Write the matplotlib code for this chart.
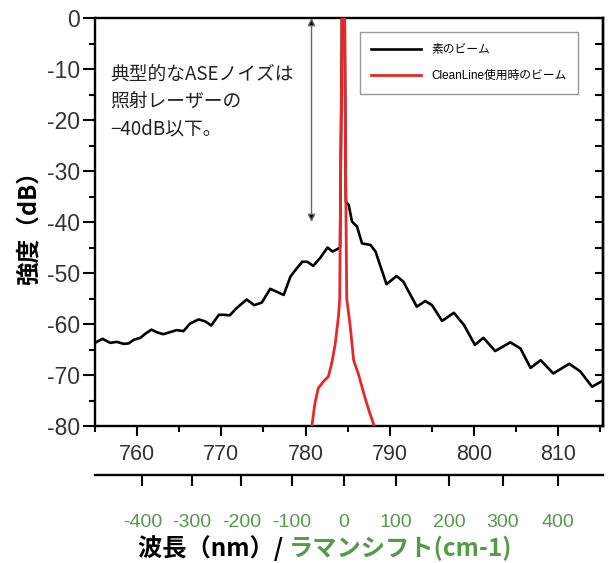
import matplotlib
matplotlib.use("Agg")
import matplotlib.pyplot as plt
from matplotlib.ticker import MultipleLocator, FixedLocator
import numpy as np

plt.rcParams['font.family'] = ['Liberation Sans', 'Noto Sans CJK JP', 'DejaVu Sans']
plt.rcParams['axes.unicode_minus'] = False

# ---- data ----
black_wl = [755.0, 755.9, 756.8, 757.6, 758.4, 759.0, 759.6, 760.4, 760.9, 761.7,
            762.3, 763.1, 763.9, 764.7, 765.5, 766.3, 767.3, 768.1, 768.8, 769.7,
            770.3, 771.0, 771.8, 773.0, 773.9, 774.8, 775.8, 776.6, 777.4, 778.2,
            778.8, 779.6, 780.2, 780.9, 781.7, 782.6, 783.2, 783.9,
            784.09, 784.15, 784.28, 784.31, 784.48, 784.64, 784.67, 784.76, 784.78,
            785.12, 785.5, 786.1, 786.7, 787.7, 788.3, 789.6, 790.8, 791.6, 793.2,
            794.2, 795.0, 796.2, 797.6, 798.8, 800.1, 801.1, 802.5, 804.3, 805.5,
            806.7, 807.9, 809.4, 811.3, 812.6, 814.0, 815.3]
black_db = [-63.7, -62.9, -63.7, -63.5, -63.9, -63.8, -63.1, -62.7, -62.0, -61.1,
            -61.6, -62.0, -61.6, -61.2, -61.4, -59.9, -59.1, -59.5, -60.3, -58.2,
            -58.2, -58.3, -56.9, -55.2, -56.3, -55.8, -53.1, -53.7, -54.3, -50.7,
            -49.4, -47.8, -47.8, -48.6, -47.1, -45.0, -45.8, -45.2,
            -45.0, -32.0, -10.0, 0.0, 8.0, 0.0, -10.0, -32.0, -36.0,
            -36.7, -39.9, -40.9, -44.2, -44.5, -45.8, -52.2, -50.6, -51.7, -56.6,
            -55.5, -56.3, -59.4, -57.8, -60.2, -64.1, -62.7, -65.3, -63.6, -64.8,
            -68.6, -67.1, -69.7, -67.8, -69.3, -72.3, -71.1]

red_wl = [780.7, 781.1, 781.5, 782.1, 782.7, 783.1, 783.5, 783.9, 784.05, 784.15,
          784.28, 784.31, 784.48, 784.64, 784.67, 784.76, 784.88, 785.3, 785.7,
          786.3, 786.9, 787.5, 788.1, 788.2]
red_db = [-80.5, -75.6, -72.6, -71.3, -70.3, -67.7, -64.1, -58.5, -55.0, -32.0,
          -10.0, 0.0, 8.0, 0.0, -10.0, -32.0, -55.0, -60.5, -67.1,
          -70.0, -73.6, -76.9, -79.8, -80.5]

laser_nm = 784.5
raman_ticks = [-400, -300, -200, -100, 0, 100, 200, 300, 400]
label_black = "素のビーム"
label_red = "CleanLine使用時のビーム"
note = "典型的なASEノイズは\n照射レーザーの\n−40dB以下。"
arrow_x = 780.7
arrow_top, arrow_bottom = 0, -40

green = '#56994c'
tick_col = '#333333'
cjk = ['Noto Sans CJK JP']

fig = plt.figure(figsize=(6.13, 5.63), dpi=100)
ax = fig.add_axes([95/613, 1-426/563, (603-95)/613, (426-18)/563])

ax.plot(black_wl, black_db, color='black', lw=1.9, label=label_black, zorder=2)
ax.plot(red_wl, red_db, color='#e8272b', lw=2.0, label=label_red, zorder=3)

ax.set_xlim(755, 815.3)
ax.set_ylim(-80, 0)
ax.xaxis.set_major_locator(MultipleLocator(10))
ax.xaxis.set_minor_locator(MultipleLocator(5))
ax.yaxis.set_major_locator(MultipleLocator(10))
ax.yaxis.set_minor_locator(MultipleLocator(5))
for s in ax.spines.values():
    s.set_linewidth(1.7)
ax.tick_params(axis='both', which='major', direction='out', length=7, width=1.5,
               labelsize=15.5, labelcolor=tick_col, pad=2)
ax.tick_params(axis='both', which='minor', direction='out', length=4, width=1.5)
ax.tick_params(axis='y', which='major', length=9, labelsize=16.5, pad=2)
ax.tick_params(axis='x', which='major', pad=6)

# right inward ticks
axr = ax.secondary_yaxis('right')
axr.yaxis.set_major_locator(MultipleLocator(5))
axr.tick_params(axis='y', which='major', direction='in', length=6, width=1.5,
                labelright=False)
axr.tick_params(axis='y', which='minor', right=False)
axr.spines['right'].set_linewidth(1.7)

# Raman shift axis
def to_raman(w):
    w = np.asarray(w, dtype=float)
    return 1e7 / laser_nm - 1e7 / w

def to_wl(s):
    s = np.asarray(s, dtype=float)
    return 1e7 / (1e7 / laser_nm - s)

axs = ax.secondary_xaxis(-0.12, functions=(to_raman, to_wl))
axs.xaxis.set_major_locator(FixedLocator(raman_ticks))
axs.xaxis.set_minor_locator(FixedLocator([]))
axs.tick_params(axis='x', which='major', direction='out', length=8, width=1.5,
                labelsize=14, labelcolor=green, pad=20)
axs.spines['bottom'].set_linewidth(1.7)

ax.set_ylabel("強度（dB）", fontsize=17, fontweight='bold', family=cjk)
ax.yaxis.set_label_coords(-0.108, 0.5)

t1 = fig.text(138/613, 1-548/563, "波長（nm）/ ", fontsize=17.5, fontweight='bold',
              family=cjk, ha='left', va='center', color='black')
ax.annotate("ラマンシフト(cm-1)", xy=(1, 0), xycoords=t1, ha='left', va='bottom',
            fontsize=17.5, fontweight='bold', family=cjk,
            color=green, annotation_clip=False)

ax.text(756.8, -8.9, note, fontsize=13.5, color='#222222',
        family=cjk, ha='left', va='top', linespacing=1.4)

ax.annotate('', xy=(arrow_x, arrow_top), xytext=(arrow_x, arrow_bottom),
            arrowprops=dict(arrowstyle='<|-|>', facecolor='black', edgecolor='#666666',
                            lw=1.0, mutation_scale=11, shrinkA=0, shrinkB=0))

leg = ax.legend(loc='upper right', bbox_to_anchor=(0.951, 0.966), borderaxespad=0,
                handlelength=4.2, labelspacing=1.2, fancybox=False,
                edgecolor='#999999', framealpha=1, borderpad=1.0, handletextpad=0.85,
                prop={'family': ['Liberation Sans', 'Noto Sans CJK JP'], 'size': 8.5})
leg.get_frame().set_linewidth(1.0)

fig.savefig("out.png", dpi=100)
